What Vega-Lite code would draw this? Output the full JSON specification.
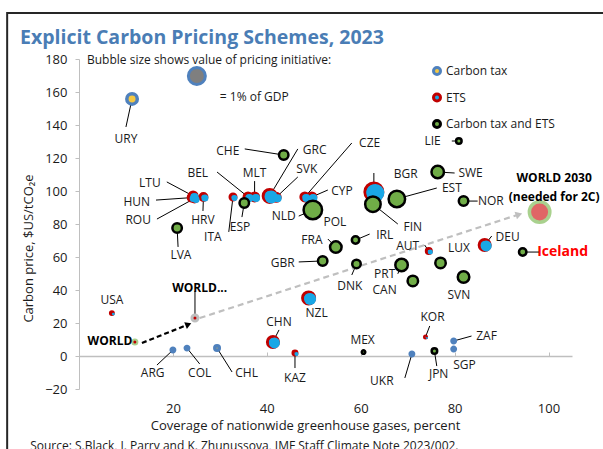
{
  "$schema": "https://vega.github.io/schema/vega-lite/v6.json",
  "width": 493,
  "height": 330,
  "autosize": "none",
  "padding": {"left": 79, "top": 59, "right": 31, "bottom": 60},
  "background": "white",
  "config": {"font": "Open Sans", "view": {"stroke": null}},
  "title": {"text": "Explicit Carbon Pricing Schemes, 2023", "anchor": "start", "frame": "group", "dx": -59, "offset": -52, "fontSize": 19.5, "fontWeight": "bold", "color": "#4a7db5", "baseline": "alphabetic", "font": "Open Sans"},
  "datasets": {
    "pts": [
      {"c":"REF","cov":25.1,"price":169.7,"type":"Reference","gdp":1.0},
      {"c":"URY","cov":11.3,"price":155.8,"type":"Carbon tax","gdp":0.38,"label":"URY","lx":10.0,"ly":131.5,"ex":10.0,"ey":138.8},
      {"c":"ARG","cov":20.0,"price":3.6,"type":"Carbon tax","gdp":0.04,"label":"ARG","lx":15.7,"ly":-10.3,"ex":16.6,"ey":-5.5},
      {"c":"COL","cov":23.0,"price":4.8,"type":"Carbon tax","gdp":0.04,"label":"COL","lx":25.7,"ly":-10.3,"ex":25.7,"ey":-4.8},
      {"c":"CHL","cov":29.4,"price":4.8,"type":"Carbon tax","gdp":0.07,"label":"CHL","lx":35.7,"ly":-10.3,"ex":32.6,"ey":-9.7},
      {"c":"UKR","cov":70.9,"price":1.2,"type":"Carbon tax","gdp":0.04,"label":"UKR","lx":64.5,"ly":-15.2,"ex":69.4,"ey":-13.3},
      {"c":"ZAF","cov":79.8,"price":9.1,"type":"Carbon tax","gdp":0.04,"label":"ZAF","lx":86.8,"ly":12.1,"ex":83.6,"ey":12.1},
      {"c":"SGP","cov":79.8,"price":4.2,"type":"Carbon tax","gdp":0.04,"label":"SGP","lx":82.1,"ly":-5.5},
      {"c":"USA","cov":7.0,"price":26.0,"type":"ETS","gdp":0.03,"label":"USA","lx":7.0,"ly":33.9},
      {"c":"HUN","cov":24.0,"price":96.0,"type":"ETS","gdp":0.17,"label":"HUN","lx":12.3,"ly":93.3,"ex":16.4,"ey":94.5},
      {"c":"ROU","cov":24.6,"price":95.5,"type":"ETS","gdp":0.17,"label":"ROU","lx":12.6,"ly":82.4,"ex":16.6,"ey":83.0},
      {"c":"LTU","cov":24.3,"price":97.0,"type":"ETS","gdp":0.22,"label":"LTU","lx":15.1,"ly":104.8,"ex":18.7,"ey":105.5},
      {"c":"HRV","cov":26.5,"price":96.4,"type":"ETS","gdp":0.17,"label":"HRV","lx":26.4,"ly":82.4,"ex":26.4,"ey":87.9},
      {"c":"ITA","cov":32.8,"price":96.4,"type":"ETS","gdp":0.125,"label":"ITA","lx":28.5,"ly":72.1,"ex":31.9,"ey":75.2},
      {"c":"BEL","cov":36.0,"price":96.4,"type":"ETS","gdp":0.22,"label":"BEL","lx":25.3,"ly":110.9,"ex":29.4,"ey":111.5},
      {"c":"MLT","cov":37.4,"price":96.4,"type":"ETS","gdp":0.22,"label":"MLT","lx":37.4,"ly":110.9,"ex":37.4,"ey":106.0},
      {"c":"GRC","cov":40.6,"price":97.0,"type":"ETS","gdp":0.58,"label":"GRC","lx":50.2,"ly":124.8,"ex":46.6,"ey":125.5},
      {"c":"SVK","cov":42.0,"price":96.2,"type":"ETS","gdp":0.22,"label":"SVK","lx":48.5,"ly":113.3,"ex":46.6,"ey":108.5},
      {"c":"CZE","cov":48.1,"price":96.4,"type":"ETS","gdp":0.22,"label":"CZE","lx":61.9,"ly":129.1,"ex":58.1,"ey":129.1},
      {"c":"CYP","cov":49.6,"price":96.4,"type":"ETS","gdp":0.22,"label":"CYP","lx":56.0,"ly":100.0,"ex":53.0,"ey":100.6},
      {"c":"BGR","cov":62.8,"price":99.4,"type":"ETS","gdp":1.12,"label":"BGR","lx":69.6,"ly":110.3,"ex":62.8,"ey":110.9},
      {"c":"AUT","cov":74.5,"price":63.6,"type":"ETS","gdp":0.087,"label":"AUT","lx":70.0,"ly":66.7,"ex":73.6,"ey":67.3},
      {"c":"DEU","cov":86.4,"price":67.3,"type":"ETS","gdp":0.42,"label":"DEU","lx":91.3,"ly":72.1,"ex":87.9,"ey":72.7},
      {"c":"NZL","cov":48.9,"price":35.2,"type":"ETS","gdp":0.5,"label":"NZL","lx":50.6,"ly":26.1},
      {"c":"CHN","cov":41.3,"price":8.5,"type":"ETS","gdp":0.42,"label":"CHN","lx":42.6,"ly":20.6,"ex":42.6,"ey":15.8},
      {"c":"KAZ","cov":46.0,"price":1.8,"type":"ETS","gdp":0.055,"label":"KAZ","lx":46.0,"ly":-13.3,"ex":46.0,"ey":-7.3},
      {"c":"KOR","cov":73.8,"price":11.5,"type":"ETS","gdp":0.014,"label":"KOR","lx":75.3,"ly":23.6,"ex":74.7,"ey":18.2},
      {"c":"CHE","cov":43.6,"price":121.8,"type":"Carbon tax and ETS","gdp":0.31,"label":"CHE","lx":31.7,"ly":124.2,"ex":35.3,"ey":125.5},
      {"c":"LIE","cov":80.9,"price":130.3,"type":"Carbon tax and ETS","gdp":0.105,"label":"LIE","lx":75.3,"ly":130.3,"ex":79.4,"ey":130.3},
      {"c":"SWE","cov":76.4,"price":111.5,"type":"Carbon tax and ETS","gdp":0.54,"label":"SWE","lx":83.4,"ly":110.9,"ex":80.0,"ey":110.9},
      {"c":"NOR","cov":81.9,"price":93.9,"type":"Carbon tax and ETS","gdp":0.31,"label":"NOR","lx":87.7,"ly":93.9,"ex":84.9,"ey":93.9},
      {"c":"EST","cov":67.7,"price":95.2,"type":"Carbon tax and ETS","gdp":0.94,"label":"EST","lx":79.4,"ly":101.8,"ex":76.2,"ey":101.8},
      {"c":"POL","cov":50.2,"price":89.5,"type":"Carbon tax and ETS","gdp":0.54,"label":"POL","lx":54.5,"ly":81.2},
      {"c":"NLD","cov":49.8,"price":88.5,"type":"Carbon tax and ETS","gdp":1.18,"label":"NLD","lx":43.6,"ly":84.8,"ex":46.8,"ey":84.8},
      {"c":"FIN","cov":62.6,"price":92.0,"type":"Carbon tax and ETS","gdp":0.83,"label":"FIN","lx":71.1,"ly":78.2,"ex":67.9,"ey":80.0},
      {"c":"ESP","cov":35.2,"price":92.7,"type":"Carbon tax and ETS","gdp":0.31,"label":"ESP","lx":34.3,"ly":78.2,"ex":34.7,"ey":84.2},
      {"c":"LVA","cov":20.9,"price":77.6,"type":"Carbon tax and ETS","gdp":0.31,"label":"LVA","lx":21.7,"ly":61.2,"ex":21.1,"ey":66.1},
      {"c":"FRA","cov":54.7,"price":66.0,"type":"Carbon tax and ETS","gdp":0.46,"label":"FRA","lx":49.6,"ly":70.3,"ex":53.0,"ey":70.9},
      {"c":"GBR","cov":51.9,"price":57.6,"type":"Carbon tax and ETS","gdp":0.31,"label":"GBR","lx":43.4,"ly":56.4,"ex":46.8,"ey":57.0},
      {"c":"IRL","cov":58.9,"price":70.3,"type":"Carbon tax and ETS","gdp":0.19,"label":"IRL","lx":65.1,"ly":73.3,"ex":61.9,"ey":73.9},
      {"c":"DNK","cov":59.1,"price":55.8,"type":"Carbon tax and ETS","gdp":0.25,"label":"DNK","lx":57.7,"ly":42.4,"ex":58.1,"ey":49.1},
      {"c":"PRT","cov":68.7,"price":55.2,"type":"Carbon tax and ETS","gdp":0.54,"label":"PRT","lx":65.1,"ly":49.8,"ex":67.9,"ey":49.8},
      {"c":"CAN","cov":71.1,"price":45.5,"type":"Carbon tax and ETS","gdp":0.38,"label":"CAN","lx":65.1,"ly":40.0},
      {"c":"LUX","cov":77.0,"price":56.4,"type":"Carbon tax and ETS","gdp":0.38,"label":"LUX","lx":80.9,"ly":65.5},
      {"c":"SVN","cov":81.9,"price":47.9,"type":"Carbon tax and ETS","gdp":0.46,"label":"SVN","lx":80.9,"ly":37.0},
      {"c":"ISL","cov":94.5,"price":63.0,"type":"Carbon tax and ETS","gdp":0.19,"label":"Iceland","lx":103.0,"ly":63.0,"ex":98.1,"ey":63.0},
      {"c":"MEX","cov":60.6,"price":2.4,"type":"Carbon tax and ETS","gdp":0.042,"label":"MEX","lx":60.4,"ly":9.7},
      {"c":"JPN","cov":75.7,"price":3.0,"type":"Carbon tax and ETS","gdp":0.105,"label":"JPN","lx":76.6,"ly":-10.9,"ex":76.2,"ey":-6.1},
      {"c":"WNOW","cov":11.9,"price":8.5,"type":"World","gdp":0.087,"label":"WORLD","lx":6.6,"ly":9.1},
      {"c":"W2023","cov":24.7,"price":23.0,"type":"World 2023","gdp":0.125,"label":"WORLD...","lx":25.7,"ly":41.2,"ex":24.7,"ey":39.4},
      {"c":"W2030","cov":98.1,"price":87.3,"type":"World 2030","gdp":1.45,"label":"WORLD 2030\n(needed for 2C)","lx":101.2,"ly":107.9}
    ]
  },
  "layer": [
    {
      "data": {"values": [{"x1": -15.3, "x2": 113, "y1": 207.9, "y2": -60}]},
      "mark": {"type": "rect", "filled": false, "stroke": "#262626", "strokeWidth": 2},
      "encoding": {
        "x": {"field": "x1", "type": "quantitative", "scale": {"domain": [0, 105], "nice": false, "zero": false},
          "axis": {"orient": "top", "offset": -297, "labels": false, "title": null, "grid": false, "values": [20, 40, 60, 80, 100], "domainColor": "#bfbfbf", "domainWidth": 1.5, "tickColor": "#bfbfbf", "tickSize": 4, "tickWidth": 1}},
        "x2": {"field": "x2"},
        "y": {"field": "y1", "type": "quantitative", "scale": {"domain": [-20, 180], "nice": false}, "axis": null},
        "y2": {"field": "y2"}
      }
    },
    {
      "data": {"name": "pts"},
      "transform": [{"filter": "isValid(datum.ex)"}],
      "mark": {"type": "rule", "color": "#000000", "strokeWidth": 1},
      "encoding": {
        "x": {"field": "cov", "type": "quantitative", "scale": {"domain": [0, 105], "nice": false, "zero": false}, "axis": null},
        "y": {"field": "price", "type": "quantitative", "scale": {"domain": [-20, 180], "nice": false}, "axis": null},
        "x2": {"field": "ex"},
        "y2": {"field": "ey"}
      }
    },
    {
      "data": {"values": [{"x": 25.7, "y": 23.0, "x2": 93.7, "y2": 85.8}]},
      "layer": [
        {"mark": {"type": "rule", "color": "#bfbfbf", "strokeWidth": 2.2, "strokeDash": [6, 4]},
         "encoding": {"x": {"field": "x", "type": "quantitative", "axis": null}, "y": {"field": "y", "type": "quantitative", "axis": null}, "x2": {"field": "x2"}, "y2": {"field": "y2"}}},
        {"mark": {"type": "point", "shape": "triangle-right", "filled": true, "color": "#bfbfbf", "size": 60, "angle": 342, "opacity": 1},
         "encoding": {"x": {"field": "x2", "type": "quantitative", "axis": null}, "y": {"field": "y2", "type": "quantitative", "axis": null}}}
      ]
    },
    {
      "data": {"values": [{"x": 13.4, "y": 7.9, "x2": 23.3, "y2": 19.1}]},
      "layer": [
        {"mark": {"type": "rule", "color": "#000000", "strokeWidth": 2.2, "strokeDash": [5, 3]},
         "encoding": {"x": {"field": "x", "type": "quantitative", "axis": null}, "y": {"field": "y", "type": "quantitative", "axis": null}, "x2": {"field": "x2"}, "y2": {"field": "y2"}}},
        {"mark": {"type": "point", "shape": "triangle-right", "filled": true, "color": "#000000", "size": 50, "angle": 338, "opacity": 1},
         "encoding": {"x": {"field": "x2", "type": "quantitative", "axis": null}, "y": {"field": "y2", "type": "quantitative", "axis": null}}}
      ]
    },
    {
      "data": {"name": "pts"},
      "transform": [{"filter": "indexof(['Reference','Carbon tax','ETS'], datum.type) >= 0"}],
      "mark": {"type": "circle", "opacity": 1},
      "encoding": {
        "x": {"field": "cov", "type": "quantitative", "scale": {"domain": [0, 105], "nice": false, "zero": false},
          "axis": {"orient": "bottom", "values": [20, 40, 60, 80, 100], "domain": false, "ticks": false, "grid": false, "labelFontSize": 13, "labelColor": "#1a1a1a", "labelPadding": 13,
            "title": "Coverage of nationwide greenhouse gases, percent", "titleFontSize": 13, "titleFontWeight": "normal", "titleColor": "#1a1a1a", "titleX": 226, "titleY": 36, "titleAlign": "center", "titleBaseline": "middle"}},
        "y": {"field": "price", "type": "quantitative", "scale": {"domain": [-20, 180], "nice": false},
          "axis": {"orient": "left", "values": [-20, 0, 20, 40, 60, 80, 100, 120, 140, 160, 180], "grid": false, "domainColor": "#bfbfbf", "tickColor": "#bfbfbf", "tickSize": 4, "labelPadding": 8, "labelFontSize": 13, "labelColor": "#1a1a1a",
            "title": "Carbon price, $US/tCO₂e", "titleFontSize": 13, "titleFontWeight": "normal", "titleColor": "#1a1a1a", "titleX": -51, "titleY": 189, "titleAngle": -90, "titleAlign": "center", "titleBaseline": "middle"}},
        "size": {"field": "gdp", "type": "quantitative", "scale": {"domain": [0, 2], "range": [0, 578]}, "legend": null},
        "fill": {"field": "type", "type": "nominal",
          "scale": {"domain": ["Carbon tax", "ETS", "Carbon tax and ETS", "Reference", "World 2030", "World", "World 2023"], "range": ["#f5c842", "#19a7e6", "#70ad47", "#7f7f7f", "#e06666", "#c00000", "#c00000"]},
          "legend": {"values": ["Carbon tax", "ETS", "Carbon tax and ETS"], "orient": "none", "legendX": 352, "legendY": 6, "title": null, "symbolType": "circle", "symbolSize": 49, "symbolStrokeWidth": 3, "labelFontSize": 12, "labelColor": "#1a1a1a", "labelOffset": 3, "rowPadding": 6.5, "padding": 0}},
        "stroke": {"field": "type", "type": "nominal",
          "scale": {"domain": ["Carbon tax", "ETS", "Carbon tax and ETS", "Reference", "World 2030", "World", "World 2023"], "range": ["#4f81bd", "#c00000", "#000000", "#4f81bd", "#a9d18e", "#a9d18e", "#bfbfbf"]},
          "legend": {"values": ["Carbon tax", "ETS", "Carbon tax and ETS"], "orient": "none", "legendX": 352, "legendY": 6, "title": null, "symbolType": "circle", "symbolSize": 49, "symbolStrokeWidth": 3, "labelFontSize": 12, "labelColor": "#1a1a1a", "labelOffset": 3, "rowPadding": 6.5, "padding": 0}},
        "strokeWidth": {"condition": [
          {"test": "datum.type === 'Carbon tax'", "value": 3.5}
        ], "value": 3}
      }
    },
    {
      "data": {"name": "pts"},
      "transform": [{"filter": "datum.type === 'ETS'"}],
      "mark": {"type": "circle", "opacity": 1, "color": "#19a7e6", "xOffset": 1.5, "yOffset": 1},
      "encoding": {
        "x": {"field": "cov", "type": "quantitative", "axis": null},
        "y": {"field": "price", "type": "quantitative", "axis": null},
        "size": {"field": "gdp", "type": "quantitative", "legend": null}
      }
    },
    {
      "data": {"name": "pts"},
      "transform": [{"filter": "indexof(['Reference','Carbon tax','ETS'], datum.type) < 0"}],
      "mark": {"type": "circle", "opacity": 1},
      "encoding": {
        "x": {"field": "cov", "type": "quantitative", "axis": null},
        "y": {"field": "price", "type": "quantitative", "axis": null},
        "size": {"field": "gdp", "type": "quantitative", "legend": null},
        "fill": {"field": "type", "type": "nominal",
          "legend": {"values": ["Carbon tax", "ETS", "Carbon tax and ETS"], "orient": "none", "legendX": 352, "legendY": 6, "title": null, "symbolType": "circle", "symbolSize": 49, "symbolStrokeWidth": 3, "labelFontSize": 12, "labelColor": "#1a1a1a", "labelOffset": 3, "rowPadding": 6.5, "padding": 0}},
        "stroke": {"field": "type", "type": "nominal",
          "legend": {"values": ["Carbon tax", "ETS", "Carbon tax and ETS"], "orient": "none", "legendX": 352, "legendY": 6, "title": null, "symbolType": "circle", "symbolSize": 49, "symbolStrokeWidth": 3, "labelFontSize": 12, "labelColor": "#1a1a1a", "labelOffset": 3, "rowPadding": 6.5, "padding": 0}},
        "strokeWidth": {"condition": [
          {"test": "datum.type === 'Carbon tax and ETS'", "value": 2.5},
          {"test": "datum.type === 'World 2030'", "value": 3.5},
          {"test": "datum.type === 'World'", "value": 2}
        ], "value": 3}
      }
    },
    {
      "data": {"name": "pts"},
      "transform": [{"filter": "datum.label && indexof(['ISL','WNOW','W2023','W2030'], datum.c) < 0"}],
      "mark": {"type": "text", "fontSize": 12, "color": "#1a1a1a", "align": "center", "baseline": "middle"},
      "encoding": {
        "x": {"field": "lx", "type": "quantitative", "axis": null},
        "y": {"field": "ly", "type": "quantitative", "axis": null},
        "text": {"field": "label"}
      }
    },
    {
      "data": {"name": "pts"},
      "transform": [{"filter": "indexof(['WNOW','W2023','W2030'], datum.c) >= 0"}],
      "mark": {"type": "text", "fontSize": 12, "fontWeight": "bold", "color": "#000000", "align": "center", "baseline": "middle", "lineBreak": "\n", "lineHeight": 19},
      "encoding": {
        "x": {"field": "lx", "type": "quantitative", "axis": null},
        "y": {"field": "ly", "type": "quantitative", "axis": null},
        "text": {"field": "label"}
      }
    },
    {
      "data": {"name": "pts"},
      "transform": [{"filter": "datum.c === 'ISL'"}],
      "mark": {"type": "text", "fontSize": 14, "fontWeight": "bold", "color": "#ff0000", "align": "center", "baseline": "middle"},
      "encoding": {
        "x": {"field": "lx", "type": "quantitative", "axis": null},
        "y": {"field": "ly", "type": "quantitative", "axis": null},
        "text": {"field": "label"}
      }
    },
    {
      "data": {"values": [
        {"t": "Bubble size shows value of pricing initiative:", "x": 1.7, "y": 179.4},
        {"t": "= 1% of GDP", "x": 30.0, "y": 157.0},
        {"t": "Source: S.Black, I. Parry and K. Zhunussova, IMF Staff Climate Note 2023/002.", "x": -10.4, "y": -54.5}
      ]},
      "mark": {"type": "text", "fontSize": 12, "color": "#1a1a1a", "align": "left", "baseline": "middle"},
      "encoding": {
        "x": {"field": "x", "type": "quantitative", "axis": null},
        "y": {"field": "y", "type": "quantitative", "axis": null},
        "text": {"field": "t"}
      }
    }
  ],
  "resolve": {"axis": {"x": "independent", "y": "independent"}}
}
